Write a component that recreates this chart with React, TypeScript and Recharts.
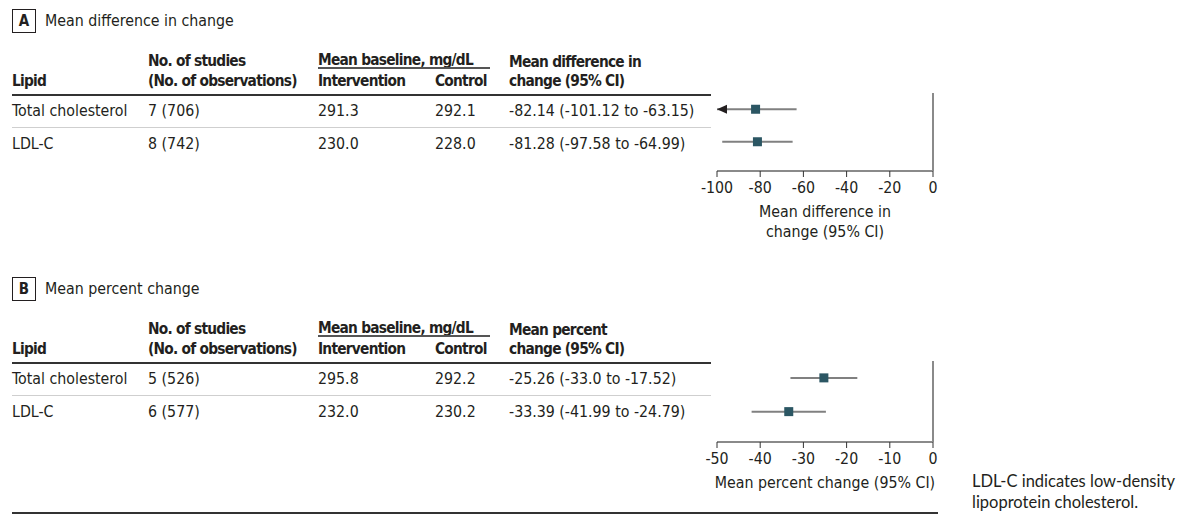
import React from "react";
import {
  ErrorBar,
  ReferenceLine,
  Scatter,
  ScatterChart,
  XAxis,
  YAxis,
} from "recharts";

const lipids = ["Total cholesterol", "LDL-C"];

// panel A – mean difference in change
const studiesA = ["7 (706)", "8 (742)"];
const interventionA = ["291.3", "230.0"];
const controlA = ["292.1", "228.0"];
const ciTextA = ["-82.14 (-101.12 to -63.15)", "-81.28 (-97.58 to -64.99)"];
const meanA = [-82.14, -81.28];
const lowA = [-101.12, -97.58];
const highA = [-63.15, -64.99];
const ticksA = [-100, -80, -60, -40, -20, 0];

// panel B – mean percent change
const studiesB = ["5 (526)", "6 (577)"];
const interventionB = ["295.8", "232.0"];
const controlB = ["292.2", "230.2"];
const ciTextB = ["-25.26 (-33.0 to -17.52)", "-33.39 (-41.99 to -24.79)"];
const meanB = [-25.26, -33.39];
const lowB = [-33.0, -41.99];
const highB = [-17.52, -24.79];
const ticksB = [-50, -40, -30, -20, -10, 0];

const FONT = "'DejaVu Sans Condensed', 'DejaVu Sans', sans-serif";
const INK = "#231f20";

const Txt: React.FC<
  React.PropsWithChildren<{
    x: number;
    y: number;
    bold?: boolean;
    size?: number;
    family?: string;
    color?: string;
    center?: boolean;
  }>
> = ({ x, y, bold, size, family = FONT, color = INK, center, children }) => (
  <div
    style={{
      position: "absolute",
      left: x,
      top: y,
      transform: center ? "translate(-50%, -50%)" : "translateY(-50%)",
      fontFamily: family,
      fontStretch: "condensed",
      fontSize: size ?? (bold ? 15.3 : 15.8),
      letterSpacing: bold ? -0.75 : 0,
      fontWeight: bold ? 700 : 400,
      color,
      whiteSpace: "nowrap",
      lineHeight: 1.2,
    }}
  >
    {children}
  </div>
);

const HLine = ({ x1, x2, y, w, c }: { x1: number; x2: number; y: number; w: number; c: string }) => (
  <div
    style={{
      position: "absolute",
      left: x1,
      top: y - w / 2,
      width: x2 - x1,
      height: w,
      background: c,
    }}
  />
);

const PanelTitle = ({ y, letter, title }: { y: number; letter: string; title: string }) => (
  <>
    <div
      style={{
        position: "absolute",
        left: 12,
        top: y - 12,
        width: 24,
        height: 24,
        boxSizing: "border-box",
        border: `1.5px solid ${INK}`,
        display: "flex",
        alignItems: "center",
        justifyContent: "center",
        fontFamily: FONT,
        fontWeight: 700,
        fontSize: 15,
        color: INK,
      }}
    >
      {letter}
    </div>
    <Txt x={45} y={y}>
      {title}
    </Txt>
  </>
);

const Square = (props: any) => {
  const { cx, cy } = props;
  if (cx == null || cy == null) return null;
  return <rect x={cx - 4.5} y={cy - 4.5} width={9} height={9} fill="#2b5663" />;
};

const Arrow = (props: any) => {
  const { cx, cy } = props;
  if (cx == null || cy == null) return null;
  return <path d={`M${cx},${cy} L${cx + 10},${cy - 4.5} L${cx + 10},${cy + 4.5} Z`} fill={INK} />;
};

const NoDot = () => null;

const Forest = ({
  top,
  height,
  mean,
  low,
  high,
  ticks,
}: {
  top: number;
  height: number;
  mean: number[];
  low: number[];
  high: number[];
  ticks: number[];
}) => {
  const min = ticks[0];
  const max = ticks[ticks.length - 1];
  const rows = mean.map((m, i) => {
    const lo = Math.max(low[i], min);
    const hi = Math.min(high[i], max);
    return { y: i + 1, x: m, err: [m - lo, hi - m], clipped: low[i] < min };
  });
  const arrows = rows.filter((r) => r.clipped).map((r) => ({ x: min, y: r.y }));
  return (
    <div style={{ position: "absolute", left: 690, top }}>
      <ScatterChart
        width={270}
        height={height}
        margin={{ top: 8, right: 27, bottom: 4, left: 27 }}
      >
        <XAxis
          type="number"
          dataKey="x"
          domain={[min, max]}
          ticks={ticks}
          interval={0}
          allowDataOverflow
          height={30}
          axisLine={{ stroke: "#8a8a8a", strokeWidth: 2 }}
          tickLine={{ stroke: "#333", strokeWidth: 1 }}
          tickSize={6}
          tickMargin={5}
          tick={{ fill: INK, fontSize: 15.8, fontFamily: FONT, fontStretch: "condensed" } as any}
        />
        <YAxis type="number" dataKey="y" domain={[0.5, 2.9]} reversed hide />
        <ReferenceLine x={0} stroke="#8a8a8a" strokeWidth={2} />
        <Scatter data={rows} shape={NoDot} isAnimationActive={false}>
          <ErrorBar dataKey="err" direction="x" width={0} stroke="#808080" strokeWidth={2} />
        </Scatter>
        <Scatter data={arrows} shape={Arrow} isAnimationActive={false} />
        <Scatter data={rows} shape={Square} isAnimationActive={false} />
      </ScatterChart>
    </div>
  );
};

const Table = ({
  dy,
  studies,
  intervention,
  control,
  ciText,
  ciHead1,
}: {
  dy: number;
  studies: string[];
  intervention: string[];
  control: string[];
  ciText: string[];
  ciHead1: string;
}) => (
  <>
    <Txt x={148} y={61 + dy} bold>
      No. of studies
    </Txt>
    <Txt x={318} y={60 + dy} bold>
      Mean baseline, mg/dL
    </Txt>
    <HLine x1={318} x2={490} y={68 + dy} w={1.5} c="#555" />
    <Txt x={509} y={62 + dy} bold>
      {ciHead1}
    </Txt>
    <Txt x={12} y={81 + dy} bold>
      Lipid
    </Txt>
    <Txt x={148} y={81 + dy} bold>
      (No. of observations)
    </Txt>
    <Txt x={318} y={81 + dy} bold>
      Intervention
    </Txt>
    <Txt x={435} y={81 + dy} bold>
      Control
    </Txt>
    <Txt x={509} y={81 + dy} bold>
      change (95% CI)
    </Txt>
    <HLine x1={12} x2={711} y={94.5 + dy} w={2} c="#333" />
    <HLine x1={12} x2={711} y={127 + dy} w={1} c="#cfcfcf" />
    {lipids.map((l, i) => {
      const y = 110.5 + i * 33 + dy;
      return (
        <React.Fragment key={l}>
          <Txt x={12} y={y}>{l}</Txt>
          <Txt x={148} y={y}>{studies[i]}</Txt>
          <Txt x={318} y={y}>{intervention[i]}</Txt>
          <Txt x={435} y={y}>{control[i]}</Txt>
          <Txt x={509} y={y}>{ciText[i]}</Txt>
        </React.Fragment>
      );
    })}
  </>
);

export default function App() {
  return (
    <div
      style={{
        position: "absolute",
        left: 0,
        top: 0,
        width: 1183,
        height: 514,
        background: "#fff",
        overflow: "hidden",
      }}
    >
      <PanelTitle y={21} letter="A" title="Mean difference in change" />
      <Table
        dy={0}
        studies={studiesA}
        intervention={interventionA}
        control={controlA}
        ciText={ciTextA}
        ciHead1="Mean difference in"
      />
      <Forest top={85} height={120} mean={meanA} low={lowA} high={highA} ticks={ticksA} />
      <Txt x={825} y={212} center>
        Mean difference in
      </Txt>
      <Txt x={825} y={232} center>
        change (95% CI)
      </Txt>

      <PanelTitle y={289} letter="B" title="Mean percent change" />
      <Table
        dy={268}
        studies={studiesB}
        intervention={interventionB}
        control={controlB}
        ciText={ciTextB}
        ciHead1="Mean percent"
      />
      <Forest top={353} height={123} mean={meanB} low={lowB} high={highB} ticks={ticksB} />
      <Txt x={825} y={483} center>
        Mean percent change (95% CI)
      </Txt>

      <HLine x1={12} x2={938} y={512.5} w={2} c="#333" />
      <Txt x={972} y={482} family="Lato, sans-serif" size={16.5}>
        LDL-C indicates low-density
      </Txt>
      <Txt x={972} y={503} family="Lato, sans-serif" size={16.5}>
        lipoprotein cholesterol.
      </Txt>
    </div>
  );
}
